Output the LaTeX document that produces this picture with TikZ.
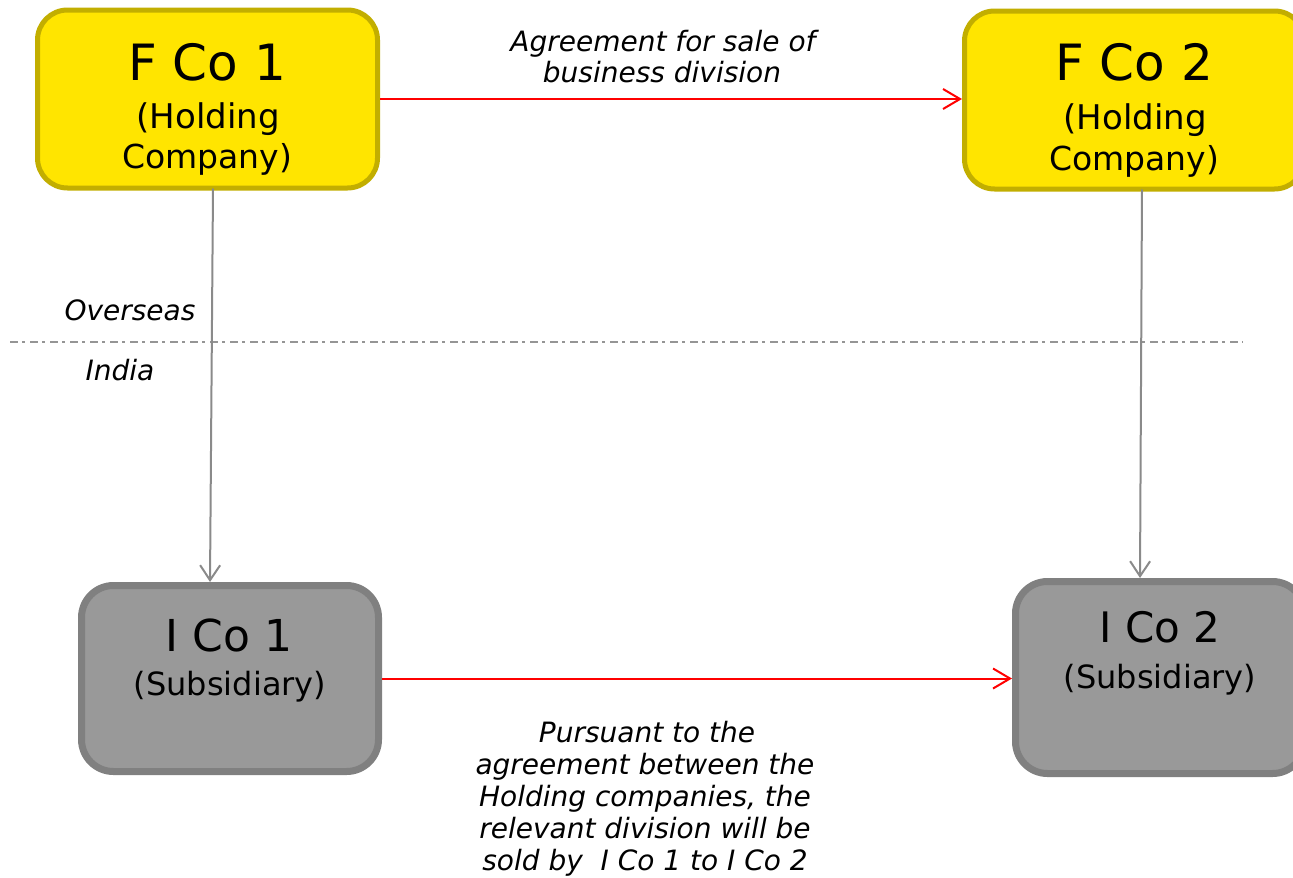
\documentclass[tikz,border=0pt]{standalone}
\usepackage{fontspec}
\setmainfont{DejaVu Sans}
\usetikzlibrary{arrows.meta}

\definecolor{holdfill}{HTML}{FFE500}
\definecolor{holdline}{HTML}{C2AE00}
\definecolor{subfill}{HTML}{999999}
\definecolor{subline}{HTML}{808080}
\definecolor{ownline}{HTML}{8A8A8A}
\definecolor{borderline}{HTML}{959595}

\tikzset{
  holdbox/.style={draw=holdline, fill=holdfill, line width=5pt, rounded corners=30pt,
    rectangle, inner sep=0pt, minimum width=340pt, minimum height=178pt},
  subbox/.style={draw=subline, fill=subfill, line width=7pt, rounded corners=32pt,
    rectangle, inner sep=0pt},
  boxtext/.style={anchor=base, inner sep=0pt, text=black},
  note/.style={anchor=base, inner sep=0pt, font=\fontsize{28}{32}\selectfont\itshape},
  deal/.style={draw=red, line width=2pt, -{Straight Barb[length=17pt,width=20pt]}},
  owns/.style={draw=ownline, line width=2pt, -{Straight Barb[length=15pt,width=20pt]}},
}

\begin{document}
\begin{tikzpicture}[x=1pt, y=-1pt]
  \useasboundingbox (0,0) rectangle (1293,878);

  % holding companies abroad
  \node[holdbox] (f1) at (207.5,99) {};
  \node[holdbox] (f2) at (1134.5,100) {};

  % Indian subsidiaries
  \node[subbox, minimum width=297pt, minimum height=186pt] (i1) at (230,678.5) {};
  \node[subbox, minimum width=289pt, minimum height=192pt] (i2) at (1160,677.5) {};

  % box captions
  \node[boxtext, font=\fontsize{50}{50}\selectfont] (f1a) at (207,80) {F Co 1};
  \node[boxtext, font=\fontsize{34}{34}\selectfont] (f1b) at (208,128) {(Holding};
  \node[boxtext, font=\fontsize{33}{33}\selectfont] (f1c) at (207,168) {Company)};

  \node[boxtext, font=\fontsize{50}{50}\selectfont] (f2a) at (1134,80) {F Co 2};
  \node[boxtext, font=\fontsize{34}{34}\selectfont] (f2b) at (1135,129) {(Holding};
  \node[boxtext, font=\fontsize{33}{33}\selectfont] (f2c) at (1134,170) {Company)};

  \node[boxtext, font=\fontsize{44}{44}\selectfont] (i1a) at (229,651) {I Co 1};
  \node[boxtext, font=\fontsize{32}{32}\selectfont] (i1b) at (230,695) {(Subsidiary)};

  \node[boxtext, font=\fontsize{42}{42}\selectfont] (i2a) at (1160,642) {I Co 2};
  \node[boxtext, font=\fontsize{32}{32}\selectfont] (i2b) at (1160,688) {(Subsidiary)};

  % Overseas / India divide
  \coordinate (divL) at (10,342);
  \coordinate (divR) at (1243,342);
  \draw[draw=borderline, line width=1.5pt, dash pattern=on 8pt off 4pt on 3pt off 5pt] (divL) -- (divR);
  \node[note] (overseas) at (130,320) {Overseas};
  \node[note] (india) at (120,380) {India};

  % shareholding links
  \draw[owns] ([xshift=5.5pt,yshift=2pt]f1.south) -- ([xshift=-20pt]i1.north);
  \draw[owns] ([xshift=7.5pt,yshift=2pt]f2.south) -- ([xshift=-20pt]i2.north);

  % transactions
  \draw[deal] (f1.east) -- (f1.east -| f2.west);
  \draw[deal] (i1.east) -- (i1.east -| i2.west);

  \node[note] (agr1) at (663,51) {Agreement for sale of};
  \node[note] (agr2) at (662,82) {business division};

  \node[note] (p1) at (647,742) {Pursuant to the};
  \node[note] (p2) at (645,774) {agreement between the};
  \node[note] (p3) at (645,806) {Holding companies, the};
  \node[note] (p4) at (645,838) {relevant division will be};
  \node[note] (p5) at (645,870) {sold by\ \ I Co 1 to I Co 2};
\end{tikzpicture}
\end{document}
